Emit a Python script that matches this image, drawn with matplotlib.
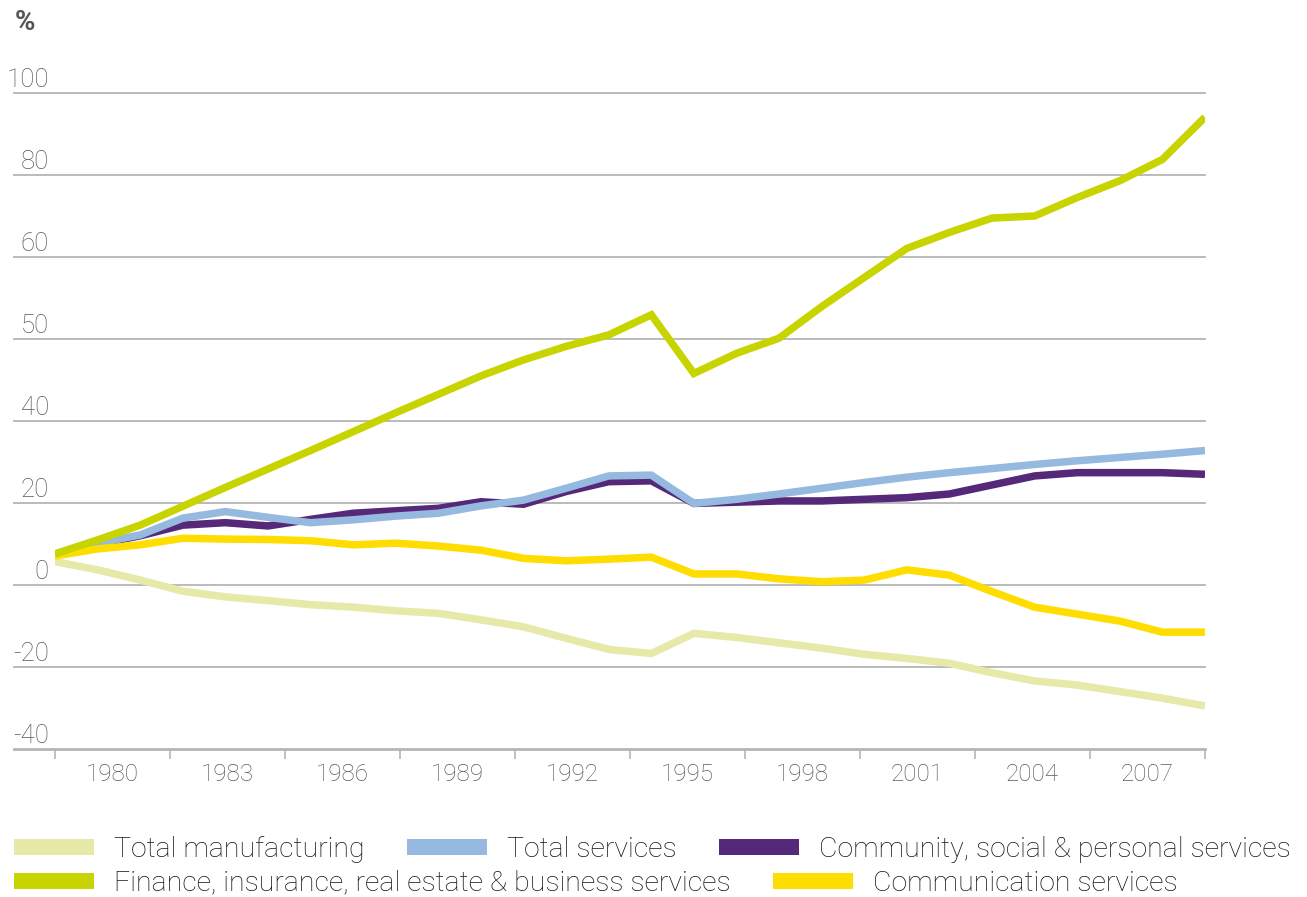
import matplotlib.pyplot as plt
from matplotlib.lines import Line2D
import numpy as np

# data (one point per year)
years = list(range(1980, 2008))

manufacturing = [5.7, 3.7, 1.2, -1.5, -2.9, -3.8, -4.8, -5.4, -6.3, -6.9,
                 -8.5, -10.2, -13.0, -15.7, -16.7, -11.8, -12.8, -14.1, -15.4, -16.9,
                 -17.9, -19.1, -21.4, -23.4, -24.4, -26.0, -27.6, -29.5]
services = [7.3, 10.2, 12.2, 16.3, 17.9, 16.5, 15.2, 15.9, 16.8, 17.5,
            19.3, 20.7, 23.6, 26.6, 26.8, 19.9, 20.9, 22.2, 23.6, 25.0,
            26.3, 27.4, 28.4, 29.4, 30.3, 31.1, 31.9, 32.8]
community = [7.3, 10.0, 12.0, 14.6, 15.2, 14.4, 16.0, 17.5, 18.1, 18.7,
             20.3, 19.7, 22.8, 25.2, 25.4, 19.9, 20.2, 20.5, 20.5, 20.9,
             21.3, 22.2, 24.4, 26.6, 27.4, 27.4, 27.4, 27.0]
finance = [7.6, 11.0, 14.6, 19.2, 23.8, 28.3, 32.8, 37.4, 42.0, 46.5,
           51.0, 54.9, 58.2, 61.0, 65.9, 51.6, 56.5, 60.2, 67.9, 75.0,
           82.1, 86.0, 89.5, 90.0, 94.5, 98.6, 103.8, 114.1]
communication = [7.1, 8.8, 9.8, 11.4, 11.2, 11.1, 10.8, 9.8, 10.2, 9.5,
                 8.5, 6.5, 5.9, 6.3, 6.8, 2.7, 2.7, 1.5, 0.8, 1.2,
                 3.7, 2.4, -1.6, -5.4, -7.1, -8.8, -11.5, -11.5]

# gridline positions and the labels printed on them
ytick_pos = [-40, -20, 0, 20, 40, 60, 80, 100, 120]
ytick_labels = ['-40', '-20', '0', '20', '40', '50', '60', '80', '100']
xtick_labels = ['1980', '1983', '1986', '1989', '1992', '1995', '1998', '2001', '2004', '2007']

series = [
    ('Total manufacturing', manufacturing, '#e6e9a8', 2),
    ('Total services', services, '#95b9df', 4),
    ('Community, social & personal services', community, '#55287a', 3),
    ('Finance, insurance, real estate & business services', finance, '#c8d400', 6),
    ('Communication services', communication, '#ffdd00', 5),
]

FONT = 'Roboto'
GRID = '#b5b5b5'
TXT = '#5a5a5a'

W, H = 1307, 897
fig = plt.figure(figsize=(W / 100, H / 100), dpi=100)
ax = fig.add_axes([55 / W, 148 / H, 1150 / W, 656 / H])

x = np.arange(len(years))
for name, vals, col, z in series:
    ax.plot(x, vals, color=col, lw=5.4, zorder=z,
            solid_capstyle='butt', solid_joinstyle='miter')

ax.set_xlim(0, len(years) - 1)
ax.set_ylim(ytick_pos[0], ytick_pos[-1])

for s in ax.spines.values():
    s.set_visible(False)

# gridlines reach a bit to the left of the plot
ext = -41 / 1150
for y in ytick_pos:
    ax.axhline(y, xmin=ext, xmax=1, color=GRID, lw=2.0 if y == ytick_pos[0] else 1.3,
               clip_on=False, zorder=1)

# y labels sit just above their gridline
ax.set_yticks([])
for y, lab in zip(ytick_pos, ytick_labels):
    ax.annotate(lab, xy=(0, y), xycoords=ax.get_yaxis_transform(),
                xytext=(-4.5, 4), textcoords='offset points',
                ha='right', va='baseline', fontsize=18.5, family=FONT,
                fontweight='light', color=TXT)

# x: tick marks between categories, labels centred in between
major = np.linspace(0, len(years) - 1, len(xtick_labels) + 1)
minor = (major[:-1] + major[1:]) / 2
ax.set_xticks(major)
ax.set_xticklabels([])
ax.set_xticks(minor, minor=True)
ax.set_xticklabels(xtick_labels, minor=True, fontsize=17.5, family=FONT,
                   fontweight='light', color=TXT)
ax.tick_params(axis='x', which='major', length=7, width=1.2, color=GRID, direction='out')
ax.tick_params(axis='x', which='minor', length=0, pad=10)

fig.text(15 / W, 1 - 22 / H, '%', fontsize=20, fontweight='bold', family=FONT,
         color='#555555', va='center', ha='left')

handles = [Line2D([], [], color=c, lw=11.5, solid_capstyle='butt') for _, _, c, _ in series]
names = [n for n, _, _, _ in series]
prop = {'family': FONT, 'weight': 'light', 'size': 20.5}
common = dict(frameon=False, prop=prop, handlelength=2.81, handletextpad=0.7,
              columnspacing=1.5, borderpad=0, borderaxespad=0, loc='center left',
              labelcolor='#151515')
fig.legend(handles[:3], names[:3], ncol=3, bbox_to_anchor=(14 / W, 1 - 849 / H), **common)
fig.legend(handles[3:], names[3:], ncol=2, bbox_to_anchor=(14 / W, 1 - 883 / H), **common)

fig.savefig('out.png', dpi=100)
